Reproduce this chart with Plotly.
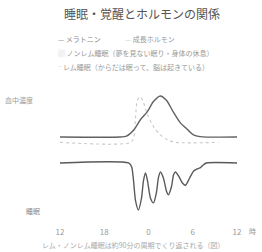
import plotly.graph_objects as go

# ---- data (hours relative to midnight) ----
mel_hours = [-12, -3.8, -3.0, -2.0, -1.1, -0.15, 0.7, 1.6, 2.4, 3.4, 4.3, 5.3, 6.1, 7.0, 12]
melatonin = [0, 0.0, 0.02, 0.17, 0.42, 0.62, 0.87, 1.0, 0.9, 0.6, 0.35, 0.18, 0.05, 0.01, 0]

gh_hours = [-12, -2.4, -2.0, -1.75, -1.5, -1.1, -0.7, -0.15, 0.7, 1.6, 2.6, 3.7, 9.5]
growth = [-0.13, -0.13, 0.0, 0.5, 0.9, 0.98, 0.85, 0.55, 0.25, 0.05, -0.07, -0.13, -0.13]

sleep_hours = [-12, -2.7, -2.3, -2.03, -1.76, -1.36, -0.95, -0.68, -0.4, -0.14, 0.27, 0.68,
               1.08, 1.36, 1.63, 2.03, 2.44, 2.7, 3.12, 3.4, 3.66, 4.07, 4.6, 5.0, 5.56,
               6.1, 6.64, 7.05, 7.46, 7.86, 12]
sleep_depth = [0, 0, 0.3, 1.5, 3.2, 4.0, 3.0, 1.5, 0.85, 1.5, 3.0, 3.4,
               2.5, 1.2, 0.77, 1.3, 2.4, 2.7, 2.0, 1.0, 0.77, 1.1, 1.7, 1.9, 1.3,
               0.7, 0.5, 0.4, 0.15, 0, 0]

tick_vals = [-12, -6, 0, 6, 12]
tick_labels = ["12", "18", "0", "6", "12"]

W, H = 262, 252
L, R, T, B = 60, 25, 90, 37
PW, PH = W - L - R, H - T - B
FONT = "Noto Sans CJK JP"


def px(x, y):
    return (x - L) / PW, (H - B - y) / PH


fig = go.Figure()
fig.add_trace(go.Scatter(x=gh_hours, y=growth, mode="lines",
                         line=dict(color="#c8c8c8", width=1.1, dash="dot", shape="spline", smoothing=0.8),
                         xaxis="x", yaxis="y", hoverinfo="skip"))
fig.add_trace(go.Scatter(x=mel_hours, y=melatonin, mode="lines",
                         line=dict(color="#606060", width=1.4, shape="spline", smoothing=0.8),
                         xaxis="x", yaxis="y", hoverinfo="skip"))
fig.add_trace(go.Scatter(x=sleep_hours, y=sleep_depth, mode="lines",
                         line=dict(color="#5a5a5a", width=1.4, shape="spline", smoothing=0.7),
                         xaxis="x", yaxis="y2", hoverinfo="skip"))

anns = []


def text(x, y, s, size=7, color="#888", anchor="left"):
    ax, ay = px(x, y)
    anns.append(dict(x=ax, y=ay, xref="paper", yref="paper", text=s, showarrow=False,
                     xanchor=anchor, yanchor="middle",
                     font=dict(family=FONT, size=size, color=color)))


text(56, 39, "— メラトニン", 7, "#888")
text(123, 39, "<span style='color:#d0d0d0'>—</span> 成長ホルモン", 7, "#999")
text(56, 53, "<span style='color:#ccc'>▒</span> ノンレム睡眠（夢を見ない眠り・身体の休息）", 7, "#999")
text(56, 67, "<span style='color:#ccc'>˝</span> レム睡眠（からだは眠って、脳は起きている）", 7, "#999")
text(3, 100, "血中濃度", 7, "#999")
text(24, 211, "睡眠", 7, "#888")
text(247, 231, "時", 7, "#999")
text(40, 245, "レム・ノンレム睡眠は約90分の周期でくり返される（図）", 7, "#aaa")

fig.update_layout(
    width=W, height=H,
    margin=dict(l=L, r=R, t=T, b=B),
    paper_bgcolor="white", plot_bgcolor="white",
    showlegend=False,
    title=dict(text="睡眠・覚醒とホルモンの関係", x=(142) / W, xanchor="center",
               y=1 - 15 / H, yanchor="middle",
               font=dict(family=FONT, size=12, color="#555")),
    xaxis=dict(range=[-12, 12], tickvals=tick_vals, ticktext=tick_labels, anchor="y2",
               showgrid=False, zeroline=False, showline=False, ticks="outside", ticklen=9,
               tickcolor="rgba(0,0,0,0)",
               tickfont=dict(family=FONT, size=8, color="#999")),
    yaxis=dict(domain=[0.56, 1.0], range=[-0.195, 1.146], visible=False),
    yaxis2=dict(domain=[0.0, 0.44], range=[4.43, -0.255], visible=False),
    annotations=anns,
)

fig.write_html("out.html", config={"displayModeBar": False},
               post_script="document.body.style.margin='0';document.body.style.overflow='hidden';")
